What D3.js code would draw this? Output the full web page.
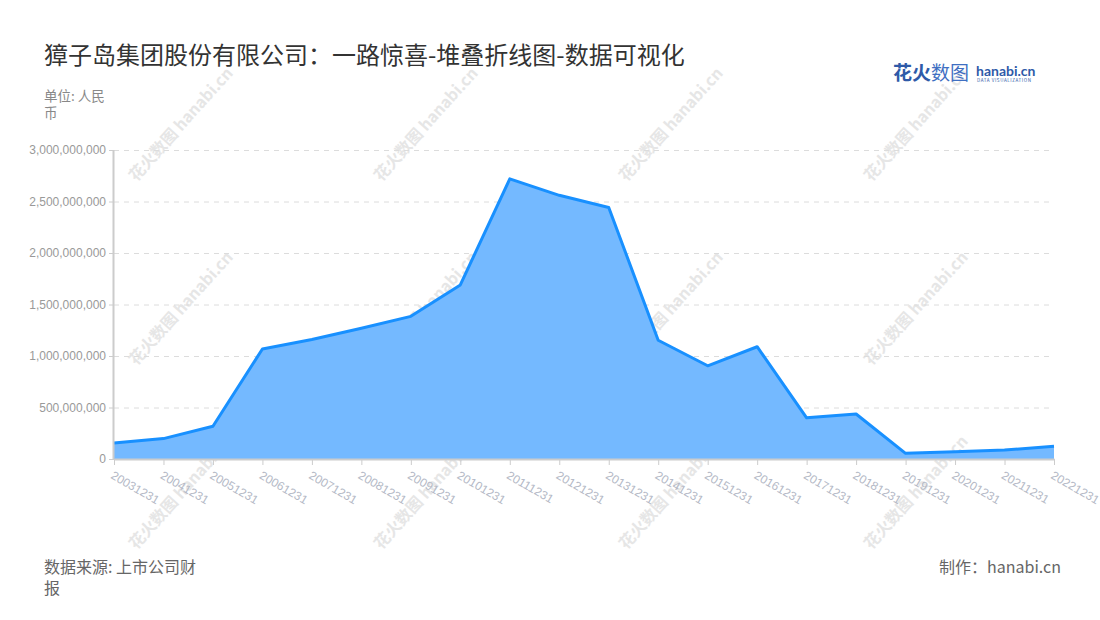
<head>
  <meta charset="UTF-8"/>
  <title>獐子岛集团股份有限公司：一路惊喜-堆叠折线图</title>
</head>
<body style="margin:0;background:#fff">
<script src="https://cdn.jsdelivr.net/npm/d3@7"></script>
<style>
  body { font-family: 'Noto Sans CJK SC', 'Noto Sans', sans-serif; }
  svg { display: block; }
  .grid line { stroke: #dcdcdc; stroke-dasharray: 5 5; }
  .grid path { stroke-width: 0; }
  .yaxis text { fill: #999; font-size: 12px; }
  .xaxis text { fill: #b4b9c6; font-size: 12px; }
  .yaxis path, .yaxis line, .xaxis path, .xaxis line { stroke: #cccccc; }
  text.wm { fill: #e6e6e6; font-weight: 700; }
</style>
<svg width="1100" height="620"></svg>
<script>
// 报告期
const dates = ['20031231','20041231','20051231','20061231','20071231','20081231','20091231',
  '20101231','20111231','20121231','20131231','20141231','20151231','20161231',
  '20171231','20181231','20191231','20201231','20211231','20221231'];
// 数值（人民币）
const values = [155e6, 198e6, 318e6, 1068e6, 1160e6, 1270e6, 1385e6,
  1690e6, 2720e6, 2560e6, 2442e6, 1153e6, 905e6, 1090e6,
  400e6, 437e6, 55e6, 70e6, 87e6, 123e6];
const yTicks = [0, 500e6, 1000e6, 1500e6, 2000e6, 2500e6, 3000e6];

const data = dates.map((d, i) => ({ date: d, value: values[i] }));

const svg = d3.select('svg');
const plotL = 114, plotR = 1054, plotT = 150, plotB = 459;

// 水印
const wm = svg.append('g');
for (let j = 0; j < 3; j++) {
  for (let i = 0; i < 4; i++) {
    const cx = 185 + 245 * i, cy = 128 + 184 * j;
    const g = wm.append('g').attr('transform', `translate(${cx},${cy}) rotate(-48)`);
    g.append('text').attr('class', 'wm').attr('text-anchor', 'middle')
      .attr('font-size', 16).text('花火数图 hanabi.cn');
  }
}

const x = d3.scalePoint().domain(dates).range([plotL, plotR]);
const y = d3.scaleLinear().domain([0, 3e9]).range([plotB, plotT]);

svg.append('g')
  .attr('class', 'grid')
  .attr('transform', `translate(${plotL},0)`)
  .call(d3.axisLeft(y).tickValues(yTicks.slice(1)).tickSize(-(plotR - plotL)).tickFormat(''));

const area = d3.area()
  .x(d => x(d.date))
  .y0(plotB)
  .y1(d => y(d.value));
const line = d3.line()
  .x(d => x(d.date))
  .y(d => y(d.value));

svg.append('path').datum(data)
  .attr('d', area)
  .attr('fill', '#74b9ff');

svg.append('path').datum(data)
  .attr('d', line)
  .attr('fill', 'none')
  .attr('stroke', '#1890ff')
  .attr('stroke-width', 3)
  .attr('stroke-linejoin', 'round');

svg.append('g')
  .attr('class', 'yaxis')
  .attr('transform', `translate(${plotL},0)`)
  .call(d3.axisLeft(y).tickValues(yTicks).tickSize(5).tickPadding(3).tickFormat(d3.format(',')))
  .call(g => g.select('.domain').attr('d', `M-0.5,${plotT}V${plotB}`).attr('stroke-width', 2));

const xa = svg.append('g')
  .attr('class', 'xaxis')
  .attr('transform', `translate(0,${plotB})`)
  .call(d3.axisBottom(x).tickSize(6).tickSizeOuter(0))
  .call(g => g.select('.domain').attr('stroke-width', 2));
xa.selectAll('text')
  .attr('text-anchor', 'start')
  .attr('dy', 0)
  .attr('transform', 'translate(0,11) rotate(30)');

// 标题
svg.append('text')
  .attr('x', 44).attr('y', 64)
  .attr('font-size', 24).attr('fill', '#333')
  .text('獐子岛集团股份有限公司：一路惊喜-堆叠折线图-数据可视化');

const unit = svg.append('text').attr('x', 44).attr('y', 101)
  .attr('font-size', 13.5).attr('fill', '#888');
unit.append('tspan').attr('x', 44).text('单位: 人民');
unit.append('tspan').attr('x', 44).attr('dy', 17).text('币');

// logo
const logo = svg.append('g');
logo.append('text').attr('x', 893).attr('y', 80)
  .attr('font-size', 19).attr('font-weight', 700).attr('fill', '#2e5aa8').text('花火');
logo.append('text').attr('x', 931).attr('y', 80)
  .attr('font-size', 19).attr('fill', '#3f6fc2').text('数图');
logo.append('text').attr('x', 976).attr('y', 76)
  .attr('font-size', 14).attr('font-weight', 700).attr('fill', '#2e5aa8')
  .attr('font-family', 'Lato, sans-serif').text('hanabi.cn');
logo.append('text').attr('x', 977).attr('y', 82)
  .attr('font-size', 4.5).attr('fill', '#2e5aa8').attr('letter-spacing', 0.6)
  .text('DATA VISUALIZATION');

// 页脚
const src = svg.append('text').attr('x', 44).attr('y', 573)
  .attr('font-size', 16).attr('fill', '#666');
src.append('tspan').attr('x', 44).text('数据来源: 上市公司财');
src.append('tspan').attr('x', 44).attr('dy', 21).text('报');
svg.append('text').attr('x', 1061).attr('y', 573).attr('text-anchor', 'end')
  .attr('font-size', 16).attr('fill', '#666').text('制作：hanabi.cn');
</script>
</body>
